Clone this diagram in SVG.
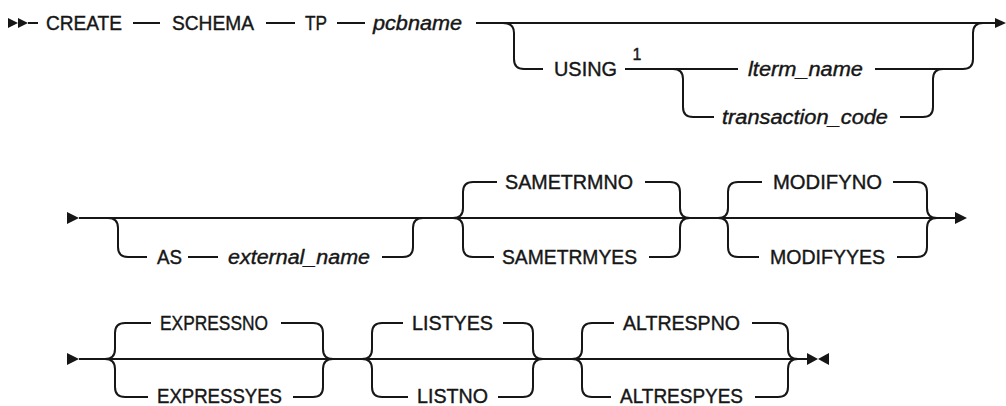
<svg xmlns="http://www.w3.org/2000/svg" width="1006" height="406" viewBox="0 0 1006 406">
<style>
  .ln { fill: none; stroke: #161616; stroke-width: 2; }
  .ah { fill: #161616; stroke: none; }
  .t { font-family: "Liberation Sans", Arial, sans-serif; font-size: 20px; fill: #161616; stroke: #161616; stroke-width: 0.4; }
  .i { font-style: italic; }
  .fn { font-family: "Liberation Sans", Arial, sans-serif; font-size: 16px; fill: #161616; stroke: #161616; stroke-width: 0.4; text-anchor: middle; }
</style>
<rect width="1006" height="406" fill="#ffffff"/>
<g id="connectors">
  <!-- row 1 -->
  <polygon class="ah" points="8,18 18,23 8,28"/>
  <polygon class="ah" points="18,18 28,23 18,28"/>
  <path class="ln" d="M 28 23 H 38"/>
  <path class="ln" d="M 133 23 H 160"/>
  <path class="ln" d="M 266 23 H 295"/>
  <path class="ln" d="M 337 23 H 365"/>
  <path class="ln" d="M 476 23 H 997"/>
  <path class="ln" d="M 503 23 Q 514 23 514 33 V 59 Q 514 69 524 69 H 543"/>
  <path class="ln" d="M 625 69 H 738"/>
  <path class="ln" d="M 673 69 Q 683 69 683 79 V 107 Q 683 117 693 117 H 714"/>
  <path class="ln" d="M 875 69 H 963 Q 973 69 973 59 V 33 Q 973 23 983 23"/>
  <path class="ln" d="M 900 117 H 923 Q 933 117 933 107 V 79 Q 933 69 943 69"/>
  <polygon class="ah" points="995,18 1006,23 995,28"/>
  <!-- row 2 -->
  <polygon class="ah" points="67,212 79,218 67,224"/>
  <path class="ln" d="M 79 218 H 956"/>
  <path class="ln" d="M 108 218 Q 118 218 118 228 V 247 Q 118 257 128 257 H 147"/>
  <path class="ln" d="M 188 257 H 218"/>
  <path class="ln" d="M 382 257 H 403 Q 413 257 413 247 V 228 Q 413 218 423 218"/>
  <path class="ln" d="M 453 218 Q 463 218 463 208 V 192 Q 463 182 473 182 H 497"/>
  <path class="ln" d="M 453 218 Q 463 218 463 228 V 247 Q 463 257 473 257 H 494"/>
  <path class="ln" d="M 645 182 H 670 Q 680 182 680 192 V 208 Q 680 218 690 218"/>
  <path class="ln" d="M 649 257 H 670 Q 680 257 680 247 V 228 Q 680 218 690 218"/>
  <path class="ln" d="M 718 218 Q 728 218 728 208 V 192 Q 728 182 738 182 H 762"/>
  <path class="ln" d="M 718 218 Q 728 218 728 228 V 247 Q 728 257 738 257 H 759"/>
  <path class="ln" d="M 893 182 H 917 Q 927 182 927 192 V 208 Q 927 218 937 218"/>
  <path class="ln" d="M 897 257 H 917 Q 927 257 927 247 V 228 Q 927 218 937 218"/>
  <polygon class="ah" points="955,212 967,218 955,224"/>
  <!-- row 3 -->
  <polygon class="ah" points="67,353 79,359 67,365"/>
  <path class="ln" d="M 79 359 H 808"/>
  <path class="ln" d="M 105 359 Q 115 359 115 349 V 333 Q 115 323 125 323 H 151"/>
  <path class="ln" d="M 105 359 Q 115 359 115 369 V 387 Q 115 397 125 397 H 148"/>
  <path class="ln" d="M 281 323 H 313 Q 323 323 323 333 V 349 Q 323 359 333 359"/>
  <path class="ln" d="M 293 397 H 313 Q 323 397 323 387 V 369 Q 323 359 333 359"/>
  <path class="ln" d="M 362 359 Q 372 359 372 349 V 333 Q 372 323 382 323 H 403"/>
  <path class="ln" d="M 362 359 Q 372 359 372 369 V 387 Q 372 397 382 397 H 408"/>
  <path class="ln" d="M 503 323 H 523 Q 533 323 533 333 V 349 Q 533 359 543 359"/>
  <path class="ln" d="M 498 397 H 523 Q 533 397 533 387 V 369 Q 533 359 543 359"/>
  <path class="ln" d="M 572 359 Q 582 359 582 349 V 333 Q 582 323 592 323 H 614"/>
  <path class="ln" d="M 572 359 Q 582 359 582 369 V 387 Q 582 397 592 397 H 611"/>
  <path class="ln" d="M 752 323 H 778 Q 788 323 788 333 V 349 Q 788 359 798 359"/>
  <path class="ln" d="M 755 397 H 778 Q 788 397 788 387 V 369 Q 788 359 798 359"/>
  <polygon class="ah" points="807,353 818,359 807,365"/>
  <polygon class="ah" points="829,353 818,359 829,365"/>
</g>
<g id="n-create"><text class="t" x="46" y="30" textLength="76" lengthAdjust="spacingAndGlyphs">CREATE</text></g>
<g id="n-schema"><text class="t" x="172" y="30" textLength="82" lengthAdjust="spacingAndGlyphs">SCHEMA</text></g>
<g id="n-tp"><text class="t" x="305" y="30" textLength="22" lengthAdjust="spacingAndGlyphs">TP</text></g>
<g id="n-pcbname"><text class="t i" x="373" y="30" textLength="89" lengthAdjust="spacingAndGlyphs">pcbname</text></g>
<g id="n-using"><text class="t" x="554" y="76" textLength="63" lengthAdjust="spacingAndGlyphs">USING</text></g>
<g id="n-footnote1"><text class="fn" x="637" y="60">1</text></g>
<g id="n-lterm"><text class="t i" x="748" y="76" textLength="115" lengthAdjust="spacingAndGlyphs">lterm_name</text></g>
<g id="n-trancode"><text class="t i" x="722" y="124" textLength="166" lengthAdjust="spacingAndGlyphs">transaction_code</text></g>
<g id="n-as"><text class="t" x="157" y="264" textLength="25" lengthAdjust="spacingAndGlyphs">AS</text></g>
<g id="n-extname"><text class="t i" x="228" y="264" textLength="142" lengthAdjust="spacingAndGlyphs">external_name</text></g>
<g id="n-sametrmno"><text class="t" x="505" y="189" textLength="128" lengthAdjust="spacingAndGlyphs">SAMETRMNO</text></g>
<g id="n-sametrmyes"><text class="t" x="502" y="264" textLength="135" lengthAdjust="spacingAndGlyphs">SAMETRMYES</text></g>
<g id="n-modifyno"><text class="t" x="773" y="189" textLength="109" lengthAdjust="spacingAndGlyphs">MODIFYNO</text></g>
<g id="n-modifyyes"><text class="t" x="770" y="264" textLength="115" lengthAdjust="spacingAndGlyphs">MODIFYYES</text></g>
<g id="n-expressno"><text class="t" x="160" y="330" textLength="108" lengthAdjust="spacingAndGlyphs">EXPRESSNO</text></g>
<g id="n-expressyes"><text class="t" x="157" y="403" textLength="125" lengthAdjust="spacingAndGlyphs">EXPRESSYES</text></g>
<g id="n-listyes"><text class="t" x="412" y="330" textLength="81" lengthAdjust="spacingAndGlyphs">LISTYES</text></g>
<g id="n-listno"><text class="t" x="417" y="403" textLength="71" lengthAdjust="spacingAndGlyphs">LISTNO</text></g>
<g id="n-altrespno"><text class="t" x="623" y="330" textLength="117" lengthAdjust="spacingAndGlyphs">ALTRESPNO</text></g>
<g id="n-altrespyes"><text class="t" x="620" y="403" textLength="123" lengthAdjust="spacingAndGlyphs">ALTRESPYES</text></g>
</svg>
